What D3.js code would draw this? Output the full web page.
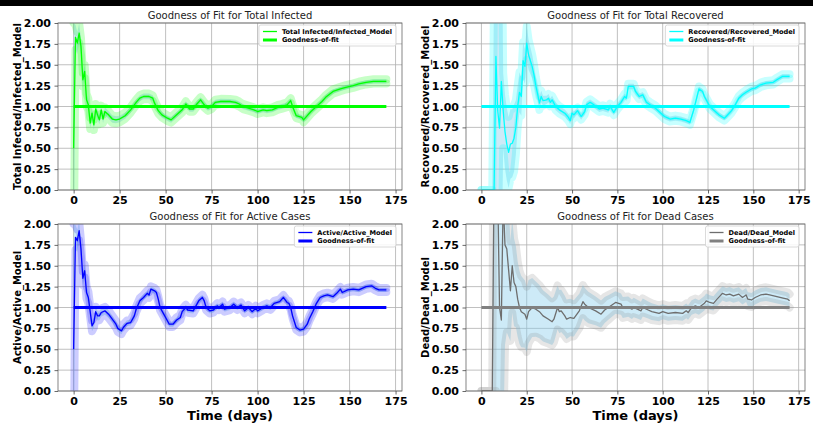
<!DOCTYPE html>
<html><head><meta charset="utf-8">
<script src="https://cdn.jsdelivr.net/npm/d3@7"></script>
<style>body{margin:0;background:#fff} svg{display:block} text{font-family:"DejaVu Sans",sans-serif}</style>
</head><body><svg id="c" width="813" height="423"></svg>
<script>
const xTicks=[0,25,50,75,100,125,150,175];
const yTicks=[0,0.25,0.5,0.75,1,1.25,1.5,1.75,2];
const fitLevel=1;

const infectedRatio=[[0,0.50],[1,1.83],[2,1.76],[3,1.88],[4,1.72],[5,1.32],[6,1.42],[7,1.08],[8,1.02],[9,0.80],[10,0.92],[11,0.78],[12,0.97],[13,0.90],[14,0.84],[15,0.96],[16,0.85],[17,0.94],[18,0.92],[19,0.90],[21,0.85],[23,0.84],[25,0.85],[28,0.89],[31,0.96],[34,1.05],[36,1.10],[38,1.12],[41,1.12],[43,1.10],[44,1.04],[46,0.95],[48,0.90],[51,0.86],[53,0.84],[56,0.90],[59,0.96],[61,1.03],[62,1.00],[63,0.97],[65,0.97],[67,1.03],[69,1.08],[71,1.02],[73,0.98],[75,1.00],[77,1.05],[80,1.06],[85,1.06],[88,1.05],[90,1.03],[92,1.00],[95,0.98],[98,0.96],[100,0.94],[103,0.96],[105,0.95],[108,0.96],[111,0.99],[113,1.00],[116,1.02],[118,1.07],[119,1.00],[121,0.89],[124,0.87],[125,0.84],[127,0.89],[129,0.94],[132,1.00],[135,1.06],[137,1.11],[141,1.18],[145,1.21],[148,1.23],[152,1.25],[155,1.27],[159,1.29],[163,1.30],[166,1.30],[170,1.30]];
const infectedErr=[[0,1.5],[1,0.15],[5,0.08],[15,0.05],[30,0.035],[170,0.025]];

const recoveredRatio=[[0,0],[6,0],[7,0],[8,1.6],[9,0.95],[10,0.74],[11,1.3],[12,0.95],[13,0.7],[14,0.55],[15,0.45],[16,0.55],[17,0.56],[18,0.62],[19,0.75],[20,1.0],[21,1.17],[22,1.12],[23,1.55],[24,1.48],[25,1.76],[26,1.62],[27,1.55],[28,1.48],[29,1.38],[30,1.25],[31,1.15],[32,1.04],[33,1.12],[34,1.07],[36,1.08],[37,1.10],[38,1.05],[39,1.08],[41,1.00],[43,0.96],[46,0.92],[48,0.87],[49,0.83],[50,0.92],[51,0.90],[53,0.95],[55,0.88],[57,0.94],[58,1.02],[60,1.05],[62,1.02],[65,0.97],[67,0.98],[70,0.96],[71,1.0],[73,0.93],[75,1.0],[77,1.05],[79,1.12],[80,1.10],[81,1.24],[84,1.24],[85,1.18],[87,1.12],[89,1.14],[91,1.05],[93,1.02],[96,0.98],[99,0.92],[101,0.88],[103,0.86],[104,0.85],[107,0.86],[110,0.85],[113,0.83],[115,0.81],[117,0.95],[120,1.21],[122,1.18],[123,1.12],[126,1.00],[131,0.90],[134,0.86],[135,0.88],[138,0.95],[140,1.02],[142,1.10],[144,1.14],[146,1.17],[149,1.21],[151,1.22],[154,1.26],[157,1.28],[161,1.29],[163,1.32],[166,1.36],[170,1.36]];
const recoveredErr=[[0,0],[6,0],[7,2.5],[11,2.5],[12,0.45],[18,0.4],[20,0.25],[25,0.2],[30,0.1],[35,0.05],[60,0.035],[170,0.025]];

const activeRatio=[[0,0.50],[1,1.84],[2,1.80],[3,1.92],[4,1.70],[5,1.35],[6,1.44],[7,1.18],[8,1.12],[9,0.95],[10,0.78],[11,0.82],[12,0.95],[13,0.90],[14,0.90],[15,0.94],[17,0.96],[19,0.92],[21,0.86],[23,0.80],[24,0.75],[26,0.72],[27,0.76],[29,0.81],[31,0.82],[33,0.90],[34,0.98],[36,1.08],[38,1.12],[40,1.17],[41,1.15],[42,1.22],[44,1.20],[45,1.18],[46,1.10],[47,1.00],[49,0.92],[50,0.88],[52,0.80],[54,0.80],[56,0.85],[58,0.88],[59,0.95],[61,1.00],[62,0.97],[65,0.96],[66,1.00],[68,1.08],[70,1.12],[71,1.08],[72,1.00],[74,0.96],[76,0.97],[78,1.02],[79,1.00],[81,1.04],[82,0.98],[85,1.00],[87,1.04],[89,1.00],[91,1.03],[93,0.96],[95,1.00],[97,0.95],[99,0.99],[100,0.96],[103,1.00],[105,1.02],[107,1.00],[109,1.05],[112,1.07],[114,1.12],[116,1.06],[117,1.05],[118,1.00],[119,0.90],[121,0.76],[123,0.73],[125,0.74],[127,0.80],[128,0.86],[130,0.95],[132,1.05],[134,1.12],[136,1.14],[138,1.15],[141,1.13],[143,1.17],[145,1.22],[146,1.18],[149,1.21],[152,1.22],[155,1.21],[159,1.25],[162,1.26],[164,1.23],[166,1.21],[170,1.21]];
const activeErr=[[0,1.5],[1,0.15],[5,0.08],[15,0.05],[30,0.035],[170,0.025]];

const deadRatio=[[0,0],[6,0],[7,2.6],[8,3.0],[9,2.4],[10,1.0],[11,0.85],[12,2.3],[13,1.75],[14,1.7],[15,1.45],[16,1.2],[17,1.5],[18,1.3],[19,1.25],[20,1.1],[21,1.0],[22,0.95],[24,0.92],[25,0.86],[26,0.95],[28,1.00],[30,0.98],[32,0.95],[34,0.90],[37,0.86],[39,0.83],[40,0.86],[42,1.00],[43,0.95],[44,0.96],[46,0.90],[47,0.86],[49,0.88],[51,0.87],[52,0.90],[54,0.96],[56,1.07],[57,1.04],[59,1.00],[63,0.96],[66,0.92],[68,0.97],[70,1.00],[72,1.03],[74,1.06],[77,1.04],[78,1.00],[81,1.01],[83,0.98],[84,1.00],[86,0.98],[88,0.96],[89,1.00],[92,0.97],[94,0.95],[98,0.93],[100,0.95],[103,0.93],[107,0.94],[111,0.93],[113,0.96],[114,0.94],[116,1.00],[118,1.02],[120,1.00],[123,1.05],[124,1.08],[126,1.06],[128,1.05],[130,1.10],[133,1.17],[135,1.15],[137,1.16],[139,1.14],[142,1.16],[144,1.12],[146,1.15],[147,1.10],[149,1.09],[151,1.12],[154,1.15],[157,1.16],[159,1.15],[163,1.13],[167,1.11],[169,1.10],[170,1.08]];
const deadErr=[[0,0],[6,0],[7,3],[12,3],[13,1.2],[16,0.6],[20,0.45],[30,0.33],[50,0.22],[75,0.13],[100,0.09],[170,0.08]];

const titles=["Goodness of Fit for Total Infected","Goodness of Fit for Total Recovered","Goodness of Fit for Active Cases","Goodness of Fit for Dead Cases"];
const yLabels=["Total Infected/Infected_Model","Recovered/Recovered_Model","Active/Active_Model","Dead/Dead_Model"];
const seriesLabels=["Total Infected/Infected_Model","Recovered/Recovered_Model","Active/Active_Model","Dead/Dead_Model"];
const fitLabel="Goodness-of-fit";
const xLabel="Time (days)";
const colors=["#00ff00","#00ffff","#0000ff","#808080"];
const glowOpacity=[0.22,0.22,0.2,0.2];
const seriesData=[infectedRatio,recoveredRatio,activeRatio,deadRatio];
const seriesErr=[infectedErr,recoveredErr,activeErr,deadErr];

const cols=[{x0:58,x1:402},{x0:466,x1:805}];
const rows=[{y0:23,y1:190},{y0:224,y1:391}];

const svg=d3.select('#c');
svg.append('rect').attr('x',0).attr('y',0).attr('width',813).attr('height',6).attr('fill','#000');
const defs=svg.append('defs');

seriesData.forEach((data,i)=>{
  const c=cols[i%2], r=rows[Math.floor(i/2)];
  const color=colors[i];
  const x=d3.scaleLinear().domain([-8.5,178.5]).range([c.x0,c.x1]);
  const y=d3.scaleLinear().domain([0,2]).range([r.y1,r.y0]);
  const g=svg.append('g');
  const clipId='clip'+i;
  defs.append('clipPath').attr('id',clipId).append('rect')
    .attr('x',c.x0).attr('y',r.y0).attr('width',c.x1-c.x0).attr('height',r.y1-r.y0);

  // grid
  g.append('g').selectAll('line').data(xTicks).join('line')
    .attr('x1',d=>x(d)).attr('x2',d=>x(d)).attr('y1',r.y0).attr('y2',r.y1)
    .attr('stroke','#b0b0b0').attr('stroke-width',0.8);
  g.append('g').selectAll('line').data(yTicks).join('line')
    .attr('x1',c.x0).attr('x2',c.x1).attr('y1',d=>y(d)).attr('y2',d=>y(d))
    .attr('stroke','#b0b0b0').attr('stroke-width',0.8);

  // plot
  const pg=g.append('g').attr('clip-path',`url(#${clipId})`);
  const errKeys=seriesErr[i];
  const errS=d3.scaleLinear().domain(errKeys.map(d=>d[0])).range(errKeys.map(d=>d[1])).clamp(true);
  const pts=data.map(d=>({t:d[0],v:d[1],e:errS(d[0])}));
  pg.append('path').datum(pts)
    .attr('d',d3.area().x(d=>x(d.t)).y0(d=>y(d.v-d.e)).y1(d=>y(d.v+d.e)))
    .attr('fill','skyblue').attr('fill-opacity',0.42);
  [-1,1].forEach(s=>{
    pg.append('path').datum(pts)
      .attr('d',d3.line().x(d=>x(d.t)).y(d=>y(d.v+s*d.e)))
      .attr('fill','none').attr('stroke',color).attr('stroke-opacity',glowOpacity[i])
      .attr('stroke-width',8).attr('stroke-linejoin','round').attr('stroke-linecap','round');
  });
  pg.append('path').datum(pts)
    .attr('d',d3.line().x(d=>x(d.t)).y(d=>y(d.v)))
    .attr('fill','none').attr('stroke',i===3?'#6e6e6e':color).attr('stroke-width',1.3).attr('stroke-linejoin','round');
  const t0=data[0][0], t1=data[data.length-1][0];
  pg.append('path').datum([t0,t1])
    .attr('d',d3.line().x(d=>x(d)).y(()=>y(fitLevel)))
    .attr('fill','none').attr('stroke',color).attr('stroke-width',3);

  // frame
  g.append('rect').attr('x',c.x0).attr('y',r.y0).attr('width',c.x1-c.x0).attr('height',r.y1-r.y0)
    .attr('fill','none').attr('stroke','#666').attr('stroke-width',0.8);

  // axes
  const ay=g.append('g').attr('transform',`translate(${c.x0},0)`)
    .call(d3.axisLeft(y).tickValues(yTicks).tickFormat(d3.format('.2f')).tickSize(3.5).tickPadding(3.5));
  const ax=g.append('g').attr('transform',`translate(0,${r.y1})`)
    .call(d3.axisBottom(x).tickValues(xTicks).tickFormat(d3.format('d')).tickSize(3.5).tickPadding(2.5));
  [ay,ax].forEach(a=>{
    a.select('.domain').remove();
    a.selectAll('line').attr('stroke','#444').attr('stroke-width',0.8);
    a.selectAll('text').attr('font-family','DejaVu Sans').attr('font-weight','bold').attr('font-size',11).attr('fill','#000');
  });

  // title
  g.append('text').attr('x',(c.x0+c.x1)/2).attr('y',r.y0-4.5).attr('text-anchor','middle')
    .attr('font-size',10).attr('fill','#222').text(titles[i]);
  // y label
  g.append('text').attr('transform',`translate(${c.x0-37},${(r.y0+r.y1)/2}) rotate(-90)`)
    .attr('text-anchor','middle').attr('font-size',10).attr('font-weight','bold').attr('fill','#000').text(yLabels[i]);
  if(Math.floor(i/2)===1){
    g.append('text').attr('x',(c.x0+c.x1)/2).attr('y',420).attr('text-anchor','middle')
      .attr('font-size',13).attr('font-weight','bold').attr('fill','#000').text(xLabel);
  }

  // legend
  const lg=g.append('g');
  const fs=6.6;
  const t1n=lg.append('text').attr('font-size',fs).attr('font-weight','bold').attr('fill','#000').text(seriesLabels[i]);
  const t2n=lg.append('text').attr('font-size',fs).attr('font-weight','bold').attr('fill','#000').text(fitLabel);
  const tw=Math.max(t1n.node().getComputedTextLength(),t2n.node().getComputedTextLength());
  const boxW=4+14+5+tw+4, boxH=21;
  const bx=c.x1-6-boxW, by=r.y0+2;
  lg.insert('rect','text').attr('x',bx).attr('y',by).attr('width',boxW).attr('height',boxH).attr('rx',2)
    .attr('fill','#fff').attr('fill-opacity',0.85).attr('stroke','#d0d0d0').attr('stroke-width',0.8);
  const r1=by+6.5, r2=by+15;
  lg.append('line').attr('x1',bx+4).attr('x2',bx+18).attr('y1',r1).attr('y2',r1).attr('stroke',i===3?'#6e6e6e':color).attr('stroke-width',1.3);
  lg.append('line').attr('x1',bx+4).attr('x2',bx+18).attr('y1',r2).attr('y2',r2).attr('stroke',color).attr('stroke-width',3);
  t1n.attr('x',bx+23).attr('y',r1+2.4);
  t2n.attr('x',bx+23).attr('y',r2+2.4);
});
</script></body></html>
